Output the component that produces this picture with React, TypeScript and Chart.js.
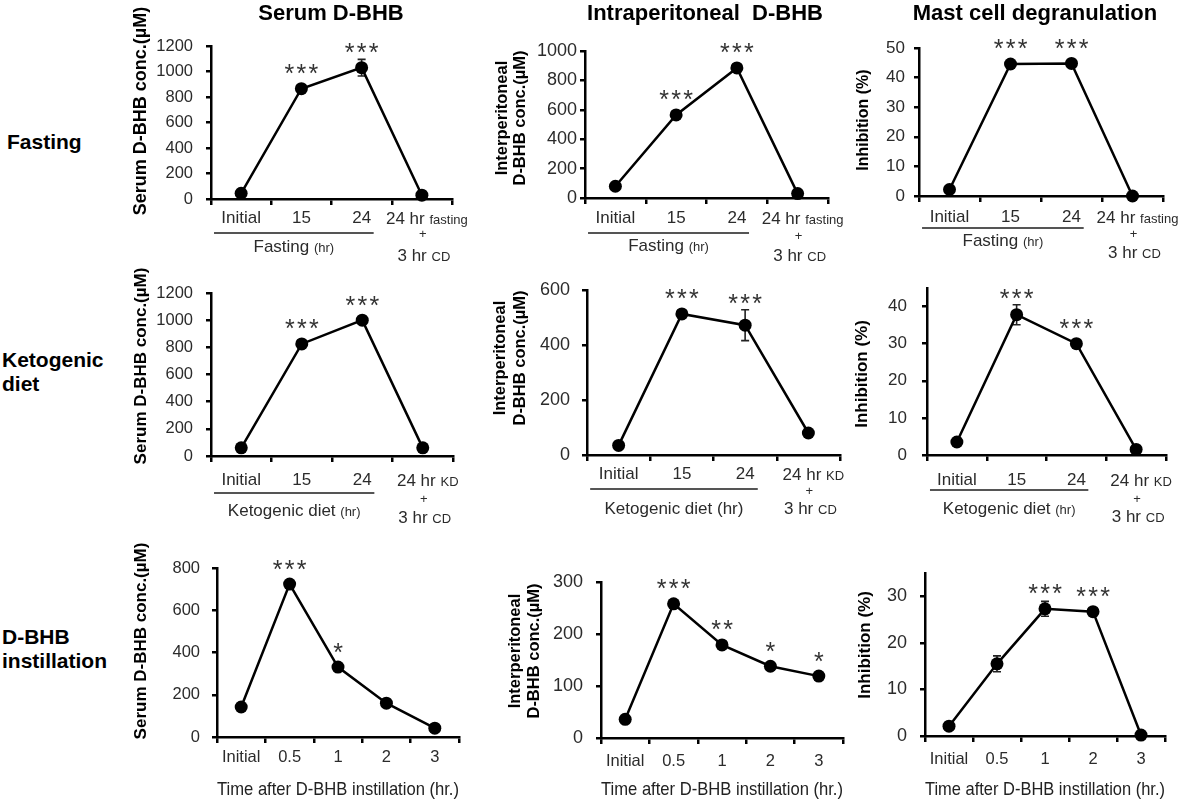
import React, { useEffect, useRef } from 'react';
import { Chart, registerables } from 'chart.js';

Chart.register(...registerables);

const FONT = 'Arial, "Liberation Sans", Helvetica, sans-serif';

// ---------- text / categories ----------
const columnTitles = ['Serum D-BHB', 'Intraperitoneal  D-BHB', 'Mast cell degranulation'];
const rowTitles = [['Fasting'], ['Ketogenic', 'diet'], ['D-BHB', 'instillation']];

const fastingLabels = ['Initial', '15', '24', '24 hr fasting + 3 hr CD'];
const ketoLabels = ['Initial', '15', '24', '24 hr KD + 3 hr CD'];
const instillLabels = ['Initial', '0.5', '1', '2', '3'];

const fastingGroup = 'Fasting (hr)';
const ketoGroup = 'Ketogenic diet (hr)';
const instillTitle = 'Time after D-BHB instillation (hr.)';

const serumTitle = ['Serum D-BHB conc.(\u00b5M)'];
const ipTitle = ['Interperitoneal', 'D-BHB conc.(\u00b5M)'];
const mastTitle = ['Inhibition (%)'];

// ---------- values ----------
const serumFasting = [45, 865, 1030, 30];
const serumFastingErr = [0, 0, 65, 0];
const serumFastingStars = ['', '***', '***', ''];

const ipFasting = [80, 565, 885, 30];
const ipFastingErr = [0, 0, 0, 0];
const ipFastingStars = ['', '***', '***', ''];

const mastFasting = [2.2, 44.6, 44.8, 0];
const mastFastingErr = [0, 0, 0, 0];
const mastFastingStars = ['', '***', '***', ''];

const serumKeto = [60, 825, 1000, 60];
const serumKetoErr = [0, 0, 0, 0];
const serumKetoStars = ['', '***', '***', ''];

const ipKeto = [35, 513, 472, 80];
const ipKetoErr = [0, 0, 56, 0];
const ipKetoStars = ['', '***', '***', ''];

const mastKeto = [3.5, 37.8, 30, 1.5];
const mastKetoErr = [0, 2.7, 0, 0];
const mastKetoStars = ['', '***', '***', ''];

const serumInstill = [142, 724, 331, 160, 42];
const serumInstillErr = [0, 0, 0, 0, 0];
const serumInstillStars = ['', '***', '*', '', ''];

const ipInstill = [36, 258, 179, 138, 119];
const ipInstillErr = [0, 0, 0, 0, 0];
const ipInstillStars = ['', '***', '**', '*', '*'];

const mastInstill = [2.1, 15.5, 27.3, 26.7, 0.2];
const mastInstillErr = [0, 1.7, 1.6, 0, 0];
const mastInstillStars = ['', '', '***', '***', ''];

// ---------- layout ----------
type Box = { l: number; r: number; t: number; b: number };
type Group = {
  text: string;
  smallHr: boolean;
  ul: number;
  gy: number;
  line1: number;
  plus: number;
  line2: number;
};
type Panel = {
  labels: string[];
  values: number[];
  errors: number[];
  stars: string[];
  yMax: number;
  yStep: number;
  yTitle: string[];
  yTitleSize: number;
  yTitleX: number;
  yTitleY: number;
  yTitleGap: number;
  yTickSize: number;
  yTickPad: number;
  xTickSize: number;
  xTickPad: number;
  area: Box;
  box: Box;
  group?: Group;
  xTitle?: string;
};

const panels: Panel[] = [
  {
    labels: fastingLabels, values: serumFasting, errors: serumFastingErr, stars: serumFastingStars,
    yMax: 1200, yStep: 200, yTitle: serumTitle, yTitleSize: 18, yTitleX: 141, yTitleY: 111, yTitleGap: 0,
    yTickSize: 16.5, yTickPad: 13, xTickSize: 17, xTickPad: 3,
    area: { l: 211, r: 452, t: 46, b: 199 }, box: { l: 120, r: 484, t: 0, b: 272 },
    group: { text: fastingGroup, smallHr: true, ul: 34, gy: 47, line1: 19, plus: 34, line2: 56 },
  },
  {
    labels: fastingLabels, values: ipFasting, errors: ipFastingErr, stars: ipFastingStars,
    yMax: 1000, yStep: 200, yTitle: ipTitle, yTitleSize: 16.5, yTitleX: 502, yTitleY: 118, yTitleGap: 18,
    yTickSize: 18, yTickPad: 3, xTickSize: 17, xTickPad: 4,
    area: { l: 585, r: 828, t: 51, b: 198 }, box: { l: 488, r: 852, t: 0, b: 272 },
    group: { text: fastingGroup, smallHr: true, ul: 35, gy: 47, line1: 20, plus: 37, line2: 57 },
  },
  {
    labels: fastingLabels, values: mastFasting, errors: mastFastingErr, stars: mastFastingStars,
    yMax: 50, yStep: 10, yTitle: mastTitle, yTitleSize: 16, yTitleX: 864, yTitleY: 120, yTitleGap: 0,
    yTickSize: 17, yTickPad: 9, xTickSize: 17, xTickPad: 5,
    area: { l: 919, r: 1163, t: 48, b: 196 }, box: { l: 852, r: 1200, t: 0, b: 272 },
    group: { text: fastingGroup, smallHr: true, ul: 32, gy: 44, line1: 21, plus: 37, line2: 56 },
  },
  {
    labels: ketoLabels, values: serumKeto, errors: serumKetoErr, stars: serumKetoStars,
    yMax: 1200, yStep: 200, yTitle: serumTitle, yTitleSize: 17, yTitleX: 141, yTitleY: 366, yTitleGap: 0,
    yTickSize: 16.5, yTickPad: 13, xTickSize: 17, xTickPad: 8,
    area: { l: 211, r: 453, t: 293, b: 456 }, box: { l: 120, r: 484, t: 262, b: 532 },
    group: { text: ketoGroup, smallHr: true, ul: 37, gy: 54, line1: 24, plus: 42, line2: 61 },
  },
  {
    labels: ketoLabels, values: ipKeto, errors: ipKetoErr, stars: ipKetoStars,
    yMax: 600, yStep: 200, yTitle: ipTitle, yTitleSize: 16.5, yTitleX: 500, yTitleY: 358, yTitleGap: 20,
    yTickSize: 18, yTickPad: 12, xTickSize: 17, xTickPad: 3,
    area: { l: 587, r: 840, t: 290, b: 455 }, box: { l: 488, r: 852, t: 262, b: 532 },
    group: { text: ketoGroup, smallHr: false, ul: 34, gy: 53, line1: 19, plus: 35, line2: 53 },
  },
  {
    labels: ketoLabels, values: mastKeto, errors: mastKetoErr, stars: mastKetoStars,
    yMax: 45, yStep: 10, yTitle: mastTitle, yTitleSize: 17, yTitleX: 862, yTitleY: 374, yTitleGap: 0,
    yTickSize: 17, yTickPad: 15, xTickSize: 17, xTickPad: 9,
    area: { l: 927, r: 1166, t: 288, b: 455 }, box: { l: 852, r: 1200, t: 262, b: 532 },
    group: { text: ketoGroup, smallHr: true, ul: 35, gy: 53, line1: 25, plus: 43, line2: 61 },
  },
  {
    labels: instillLabels, values: serumInstill, errors: serumInstillErr, stars: serumInstillStars,
    yMax: 800, yStep: 200, yTitle: serumTitle, yTitleSize: 17, yTitleX: 141, yTitleY: 641, yTitleGap: 0,
    yTickSize: 16.5, yTickPad: 12, xTickSize: 16.5, xTickPad: 5,
    area: { l: 217, r: 459, t: 568, b: 737 }, box: { l: 120, r: 484, t: 536, b: 801 },
    xTitle: instillTitle,
  },
  {
    labels: instillLabels, values: ipInstill, errors: ipInstillErr, stars: ipInstillStars,
    yMax: 300, yStep: 100, yTitle: ipTitle, yTitleSize: 16.5, yTitleX: 515, yTitleY: 651, yTitleGap: 19,
    yTickSize: 18, yTickPad: 13, xTickSize: 16.5, xTickPad: 8,
    area: { l: 601, r: 843, t: 582, b: 738 }, box: { l: 496, r: 856, t: 536, b: 801 },
    xTitle: instillTitle,
  },
  {
    labels: instillLabels, values: mastInstill, errors: mastInstillErr, stars: mastInstillStars,
    yMax: 35, yStep: 10, yTitle: mastTitle, yTitleSize: 17, yTitleX: 865, yTitleY: 645, yTitleGap: 0,
    yTickSize: 18, yTickPad: 13, xTickSize: 16.5, xTickPad: 8,
    area: { l: 925, r: 1165, t: 573, b: 736 }, box: { l: 856, r: 1200, t: 536, b: 801 },
    xTitle: instillTitle,
  },
];

const TEXT = '#2b2b2b';

function drawMixed(ctx: CanvasRenderingContext2D, parts: [string, number][], cx: number, baseline: number) {
  const widths = parts.map(([t, s]) => {
    ctx.font = `${s}px ${FONT}`;
    return ctx.measureText(t).width;
  });
  const total = widths.reduce((a, b) => a + b, 0);
  let x = cx - total / 2;
  parts.forEach(([t, s], k) => {
    ctx.font = `${s}px ${FONT}`;
    ctx.fillText(t, x, baseline);
    x += widths[k];
  });
}

function splitSmall(line: string): [string, number][] {
  const words = line.split(' ');
  const big = words.slice(0, 2).join(' ');
  const small = words.slice(2).join(' ');
  return small ? [[big + ' ', 17], [small, 13]] : [[big, 17]];
}

function makePlugin(p: Panel) {
  return {
    id: 'extras',
    beforeDatasetsDraw(chart: any) {
      const ctx: CanvasRenderingContext2D = chart.ctx;
      const xs = chart.scales.x;
      const ys = chart.scales.y;
      ctx.save();
      ctx.strokeStyle = '#222';
      ctx.lineWidth = 1.6;
      p.errors.forEach((e, i) => {
        if (!e) return;
        const px = xs.getPixelForValue(i);
        const yt = ys.getPixelForValue(p.values[i] + e);
        const yb = ys.getPixelForValue(Math.max(0, p.values[i] - e));
        ctx.beginPath();
        ctx.moveTo(px, yt);
        ctx.lineTo(px, yb);
        ctx.moveTo(px - 4, yt);
        ctx.lineTo(px + 4, yt);
        ctx.moveTo(px - 4, yb);
        ctx.lineTo(px + 4, yb);
        ctx.stroke();
      });
      ctx.restore();
    },
    afterDraw(chart: any) {
      const ctx: CanvasRenderingContext2D = chart.ctx;
      const xs = chart.scales.x;
      const ys = chart.scales.y;
      ctx.save();
      // y-axis title (rotated)
      ctx.save();
      ctx.translate(p.yTitleX - p.box.l, p.yTitleY - p.box.t);
      ctx.rotate(-Math.PI / 2);
      ctx.font = `bold ${p.yTitleSize}px ${FONT}`;
      ctx.fillStyle = '#000';
      ctx.textAlign = 'center';
      ctx.textBaseline = 'middle';
      p.yTitle.forEach((l, k) => ctx.fillText(l, 0, k * p.yTitleGap));
      ctx.restore();
      // significance stars
      ctx.fillStyle = '#333';
      ctx.textAlign = 'center';
      ctx.textBaseline = 'alphabetic';
      ctx.font = `25px ${FONT}`;
      p.stars.forEach((s, i) => {
        if (!s) return;
        const v = p.values[i];
        const e = p.errors[i];
        const cx = xs.getPixelForValue(i);
        const cy = Math.min(ys.getPixelForValue(v) - 21, ys.getPixelForValue(v + e) - 12);
        const n = s.length;
        for (let k = 0; k < n; k++) {
          ctx.fillText('*', cx + (k - (n - 1) / 2) * 12, cy + 14.5);
        }
      });
      // grouped x labels
      const g = p.group;
      if (g) {
        const bottom = chart.chartArea.bottom;
        const last = p.labels.length - 1;
        const cxL = xs.getPixelForValue(last);
        const lines = p.labels[last].split(' + ');
        ctx.fillStyle = TEXT;
        ctx.textAlign = 'left';
        drawMixed(ctx, splitSmall(lines[0]), cxL + 5, bottom + g.line1 + 6);
        drawMixed(ctx, [['+', 13]], cxL + 1, bottom + g.plus + 4.5);
        drawMixed(ctx, splitSmall(lines[1]), cxL + 2, bottom + g.line2 + 6);
        const x0 = xs.getPixelForValue(0);
        const w = xs.getPixelForValue(1) - x0;
        const ul0 = x0 - 0.45 * w;
        const ul1 = xs.getPixelForValue(2) + 0.2 * w;
        ctx.strokeStyle = '#555';
        ctx.lineWidth = 2;
        ctx.beginPath();
        ctx.moveTo(ul0, bottom + g.ul);
        ctx.lineTo(ul1, bottom + g.ul);
        ctx.stroke();
        const main = g.text.replace(' (hr)', ' ');
        const parts: [string, number][] = g.smallHr ? [[main, 17], ['(hr)', 13]] : [[g.text, 17]];
        drawMixed(ctx, parts, (ul0 + ul1) / 2, bottom + g.gy + 6);
      }
      ctx.restore();
    },
  };
}

function PanelChart({ p }: { p: Panel }) {
  const ref = useRef<HTMLCanvasElement | null>(null);
  const W = p.box.r - p.box.l;
  const H = p.box.b - p.box.t;
  useEffect(() => {
    if (!ref.current) return;
    const hasGroup = !!p.group;
    const chart = new Chart(ref.current, {
      type: 'line',
      data: {
        labels: p.labels,
        datasets: [
          {
            data: p.values,
            borderColor: '#000',
            borderWidth: 2.5,
            pointRadius: 6.5,
            pointBackgroundColor: '#000',
            pointBorderColor: '#000',
            pointBorderWidth: 0,
            tension: 0,
            clip: false as any,
          },
        ],
      },
      options: {
        responsive: false,
        animation: false,
        devicePixelRatio: 1,
        events: [],
        layout: {
          padding: {
            left: 0,
            top: p.area.t - p.box.t,
            right: p.box.r - p.area.r,
            bottom: 0,
          },
        },
        plugins: {
          legend: { display: false },
          tooltip: { enabled: false },
          title: { display: false },
        },
        scales: {
          x: {
            type: 'category',
            offset: true,
            grid: {
              offset: true,
              drawOnChartArea: false,
              drawTicks: true,
              tickLength: 6,
              color: '#000',
              lineWidth: 2.5,
            },
            border: { display: true, color: '#000', width: 2.5 },
            ticks: {
              autoSkip: false,
              maxRotation: 0,
              minRotation: 0,
              padding: p.xTickPad,
              color: TEXT,
              font: { family: FONT, size: p.xTickSize },
              callback: (_v: any, i: number) => (hasGroup && i === p.labels.length - 1 ? '' : p.labels[i]),
            },
            title: p.xTitle
              ? {
                  display: true,
                  text: p.xTitle,
                  color: '#222',
                  font: { family: FONT, size: 18.5 },
                  padding: 0,
                }
              : { display: false },
            afterFit: (s: any) => {
              s.height = p.box.b - p.area.b;
            },
          },
          y: {
            type: 'linear',
            min: 0,
            max: p.yMax,
            grid: {
              drawOnChartArea: false,
              drawTicks: true,
              tickLength: 5,
              color: '#000',
              lineWidth: 2.5,
            },
            border: { display: true, color: '#000', width: 2.5 },
            ticks: {
              stepSize: p.yStep,
              includeBounds: false,
              padding: p.yTickPad,
              color: TEXT,
              font: { family: FONT, size: p.yTickSize },
              callback: (v: any) => String(v),
            },
            title: { display: false },
            afterFit: (s: any) => {
              s.width = p.area.l - p.box.l;
            },
          },
        },
      } as any,
      plugins: [makePlugin(p) as any],
    });
    return () => chart.destroy();
  }, [p]);
  return (
    <canvas
      ref={ref}
      width={W}
      height={H}
      style={{ position: 'absolute', left: p.box.l, top: p.box.t, width: W, height: H }}
    />
  );
}

const titleCenters = [331, 705, 1035];
const rowTops = [130, 348, 625];
const rowLefts = [7, 2, 2];

export default function App() {
  return (
    <div
      style={{
        position: 'absolute',
        left: 0,
        top: 0,
        width: 1200,
        height: 804,
        background: '#fff',
        fontFamily: FONT,
        overflow: 'hidden',
      }}
    >
      {panels.map((p, i) => (
        <PanelChart key={i} p={p} />
      ))}
      {columnTitles.map((t, i) => (
        <div
          key={'c' + i}
          style={{
            position: 'absolute',
            left: titleCenters[i] - 200,
            top: 0,
            width: 400,
            textAlign: 'center',
            fontWeight: 'bold',
            fontSize: 22,
            lineHeight: '26px',
            whiteSpace: 'pre',
            color: '#000',
          }}
        >
          {t}
        </div>
      ))}
      {rowTitles.map((lines, i) => (
        <div
          key={'r' + i}
          style={{
            position: 'absolute',
            left: rowLefts[i],
            top: rowTops[i],
            fontWeight: 'bold',
            fontSize: 21,
            lineHeight: '24px',
            color: '#000',
          }}
        >
          {lines.map((l, k) => (
            <div key={k}>{l}</div>
          ))}
        </div>
      ))}
    </div>
  );
}
